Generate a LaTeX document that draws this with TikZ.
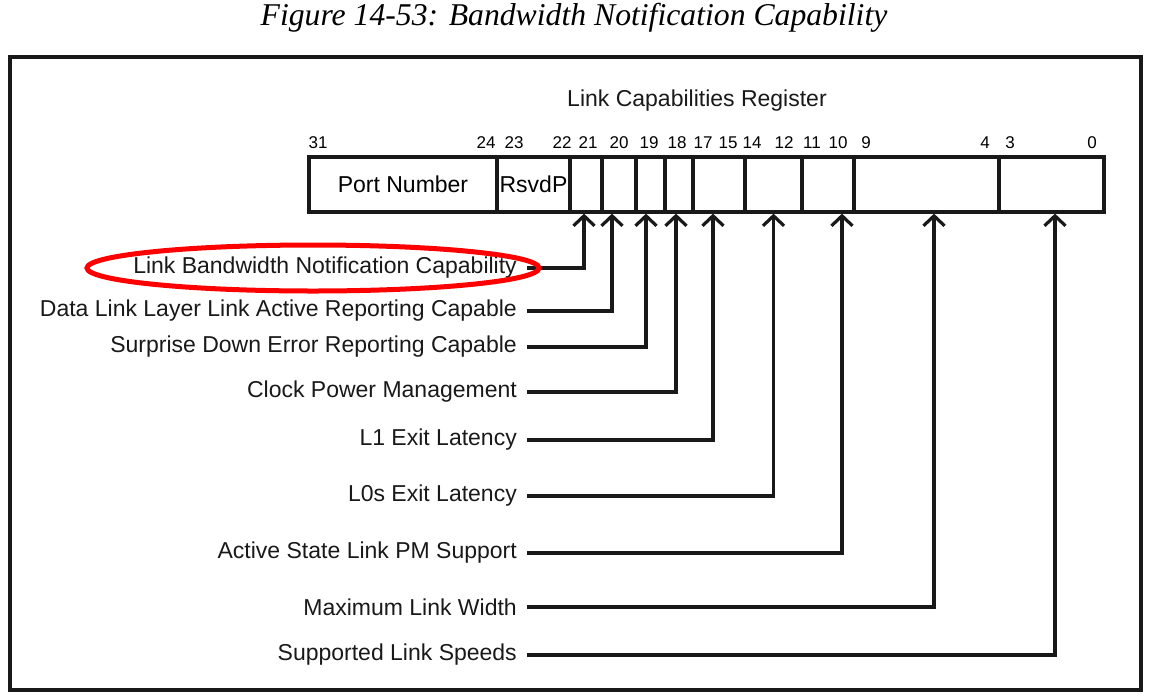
\documentclass[tikz,border=0pt]{standalone}
\usepackage{fontspec}
\setsansfont{Liberation Sans}
\newfontfamily\titlefont{Liberation Serif}
\usetikzlibrary{arrows.meta,positioning}

\tikzset{
  field/.style={draw=black!90, line width=3.2pt, minimum height=55pt, inner sep=0pt,
                font=\sffamily\fontsize{23}{27}\selectfont},
  bitno/.style={inner sep=0pt, font=\sffamily\fontsize{17}{20}\selectfont},
  lbl/.style={anchor=east, inner sep=3pt, font=\sffamily\fontsize{23}{27}\selectfont, text=black!90},
  conn/.style={draw=black!90, line width=3.2pt, shorten <=7pt,
               -{Straight Barb[length=10pt,width=21pt]}}
}

\begin{document}
\begin{tikzpicture}[x=1pt, y=-1pt]
  \useasboundingbox (0,0) rectangle (1149,697);

  % Titel und Rahmen
  \node[font=\titlefont\itshape\fontsize{31.7}{36}\selectfont] (title) at (574,18) {Figure 14-53: Bandwidth Notification Capability};
  \draw[black!90, line width=3.4pt] (10,57) rectangle (1141,690);

  % Registerfelder
  \node[font=\sffamily\fontsize{23}{27}\selectfont, text=black!90] (regname) at (697,101) {Link Capabilities Register};
  \foreach \nm/\xa/\xb/\txt in {pn/309/497/Port Number, rs/497/570/RsvdP, b21/570/602/, b20/602/636/,
      b19/636/665/, b18/665/693/, b17/693/745/, b14/745/802/, b11/802/854/, b9/854/999/, b3/999/1104/}
    \node[field, minimum width={(\xb-\xa)*1pt}] (\nm) at ({(\xa+\xb)/2},184.5) {\txt};

  % Bitnummern
  \foreach \n/\x in {31/318, 24/486, 23/514, 22/562, 21/588, 20/619, 19/649, 18/677, 17/703,
      15/728, 14/752, 12/784, 11/812, 10/838, 9/866, 4/985, 3/1010, 0/1092}
    \node[bitno] (n\n) at (\x,143) {\n};

  % Beschriftungen mit Pfeilen
  \foreach \i/\txt/\y/\fld/\dx in {
      1/Link Bandwidth Notification Capability/268/b21/-2,
      2/Data Link Layer Link Active Reporting Capable/311/b20/-7,
      3/Surprise Down Error Reporting Capable/347/b19/-4.5,
      4/Clock Power Management/392/b18/-3,
      5/L1 Exit Latency/440/b17/-6,
      6/L0s Exit Latency/496/b14/0,
      7/Active State Link PM Support/553/b11/14,
      8/Maximum Link Width/607/b9/7.5,
      9/Supported Link Speeds/655/b3/3.5}
  {
    \node[lbl] (l\i) at (520,\y) {\txt};
    \draw[conn] (l\i.east) -| ([xshift=\dx pt]\fld.south);
  }

  % rote Markierung
  \draw[red, line width=5pt] (313,268) ellipse [x radius=226, y radius=23];
\end{tikzpicture}
\end{document}
